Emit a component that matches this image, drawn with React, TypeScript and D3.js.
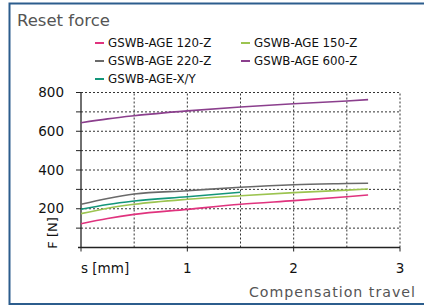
import React from "react";
import * as d3 from "d3";

const sValues = [0, 0.25, 0.5, 1, 1.5, 2, 2.5, 2.7];
const sValuesXY = [0, 0.25, 0.5, 1, 1.5];
const age120 = [123, 150, 171, 197, 223, 242, 262, 271];
const age150 = [175, 203, 223, 249, 267, 283, 296, 302];
const age220 = [223, 253, 276, 293, 311, 324, 330, 332];
const ageXY = [197, 222, 240, 262, 285];
const age600 = [644, 664, 680, 705, 725, 742, 756, 763];

const seriesNames = ["GSWB-AGE 120-Z", "GSWB-AGE 150-Z", "GSWB-AGE 220-Z", "GSWB-AGE 600-Z", "GSWB-AGE-X/Y"];
const seriesColors = ["#e0337e", "#9cc450", "#6a6a6a", "#8b3f8d", "#13967a"];
const yTicks = [200, 400, 600, 800];
const xTickLabels = ["s [mm]", "1", "2", "3"];

const W = 424, H = 307;
const FONT = "'DejaVu Sans', sans-serif";

export default function App() {
  const x = d3.scaleLinear().domain([0, 3]).range([81, 400]);
  const y = d3.scaleLinear().domain([0, 800]).range([247.5, 92.5]);
  const line = d3
    .line<[number, number]>()
    .x((d) => x(d[0]))
    .y((d) => y(d[1]))
    .curve(d3.curveMonotoneX);

  const series = [
    { vals: age120, s: sValues },
    { vals: age150, s: sValues },
    { vals: age220, s: sValues },
    { vals: age600, s: sValues },
    { vals: ageXY, s: sValuesXY },
  ];
  const drawOrder = [3, 2, 4, 1, 0];

  const hGrid = d3.range(100, 801, 100);
  const vGrid = d3.range(0.5, 3.01, 0.5);

  const legendPos = [
    [95, 43], [241, 43], [95, 61], [241, 61], [95, 79],
  ];

  return (
    <svg width={W} height={H} style={{ position: "absolute", left: 0, top: 0 }} fontFamily={FONT}>
      <rect x={0} y={0} width={W} height={H} fill="#fff" />
      <rect x={9.5} y={3.5} width={440} height={300.5} fill="none" stroke="#2c5d8d" strokeWidth={2} />
      <text x={17} y={26} fontSize={16.5} fill="#555">Reset force</text>

      {seriesNames.map((n, i) => (
        <g key={n}>
          <line x1={legendPos[i][0]} x2={legendPos[i][0] + 9} y1={legendPos[i][1]} y2={legendPos[i][1]} stroke={seriesColors[i]} strokeWidth={2} />
          <text x={legendPos[i][0] + 13} y={legendPos[i][1] + 4.3} fontSize={11.8} fill="#111">{n}</text>
        </g>
      ))}

      {hGrid.map((v) => (
        <line key={"h" + v} x1={x(0)} x2={x(3)} y1={y(v)} y2={y(v)} stroke="#333" strokeWidth={1} strokeDasharray="2,2" />
      ))}
      {vGrid.map((v) => (
        <line key={"v" + v} x1={x(v)} x2={x(v)} y1={y(0)} y2={y(800)} stroke="#333" strokeWidth={1} strokeDasharray="2,2" />
      ))}

      {hGrid.map((v) => (
        <line key={"yt" + v} x1={x(0) - 5} x2={x(0)} y1={y(v)} y2={y(v)} stroke="#222" strokeWidth={1} />
      ))}
      {[0, 1, 2, 3].map((v) => (
        <line key={"xt" + v} x1={x(v)} x2={x(v)} y1={y(0)} y2={y(0) + 4} stroke="#222" strokeWidth={1} />
      ))}
      <line x1={x(0)} x2={x(0)} y1={y(800)} y2={y(0)} stroke="#222" strokeWidth={1.3} />
      <line x1={x(0) - 3} x2={x(3)} y1={y(0)} y2={y(0)} stroke="#222" strokeWidth={1.3} />

      {yTicks.map((v) => (
        <text key={"yl" + v} x={64} y={y(v) + 4.7} fontSize={13.5} textAnchor="end" fill="#111">{v}</text>
      ))}
      {xTickLabels.map((t, i) => (
        <text key={"xl" + i} x={i === 0 ? x(0) : x(i)} y={273} fontSize={13.5} textAnchor={i === 0 ? "start" : "middle"} fill="#111">{t}</text>
      ))}
      <text transform={`translate(57,233) rotate(-90)`} fontSize={13} textAnchor="middle" fill="#111">F [N]</text>
      <text x={416} y={297} fontSize={14.2} letterSpacing={1} textAnchor="end" fill="#555">Compensation travel</text>

      {drawOrder.map((i) => (
        <path
          key={"l" + i}
          d={line(series[i].s.map((s, k) => [s, series[i].vals[k]] as [number, number])) || ""}
          fill="none"
          stroke={seriesColors[i]}
          strokeWidth={1.6}
        />
      ))}
    </svg>
  );
}
